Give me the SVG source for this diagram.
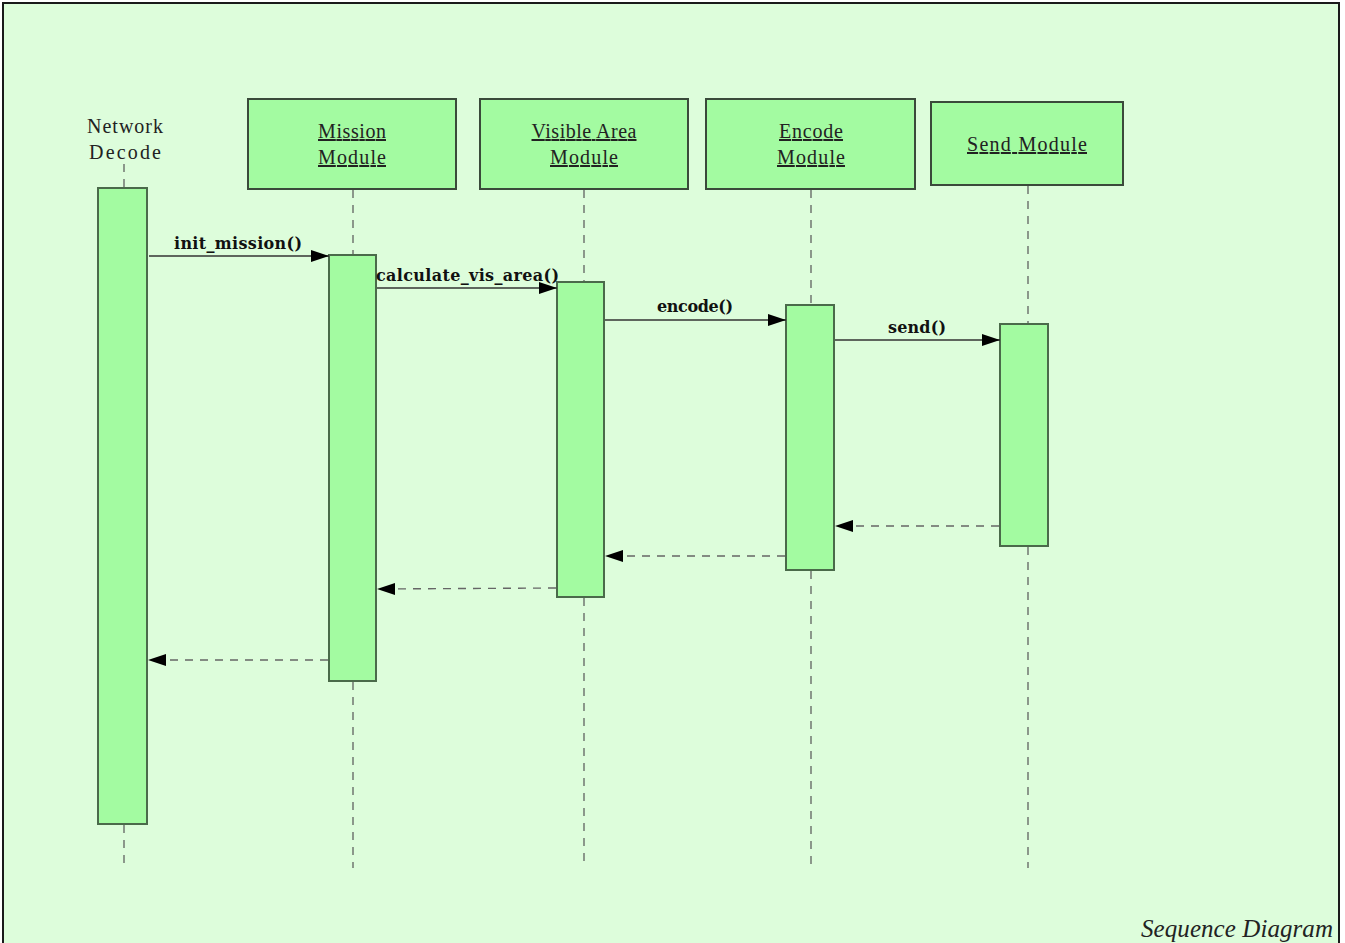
<svg xmlns="http://www.w3.org/2000/svg" width="1345" height="943" viewBox="0 0 1345 943">
  <style>
    .frame { fill: #ddfddb; stroke: #1a1a1a; stroke-width: 2; }
    .head { fill: #a3fba1; stroke: #3a4a3a; stroke-width: 2; }
    .act { fill: #a3fba1; stroke: #4a6a4a; stroke-width: 2; }
    .life { stroke: #555; stroke-width: 1.2; stroke-dasharray: 8 7; fill: none; }
    .call { stroke: #333; stroke-width: 1.4; fill: none; marker-end: url(#arrow); }
    .ret { stroke: #666; stroke-width: 1.4; stroke-dasharray: 8 7; fill: none; marker-end: url(#arrow); }
    .name { font-family: "Liberation Serif", serif; font-size: 20px; fill: #222; text-anchor: middle; }
    .uname { font-family: "Liberation Serif", serif; font-size: 20px; fill: #222; text-anchor: middle; text-decoration: underline; }
    .msg { font-family: "DejaVu Serif", "Liberation Serif", serif; font-size: 16px; font-weight: bold; fill: #111; }
    .title { font-family: "Liberation Serif", serif; font-size: 25px; font-style: italic; fill: #222; }
  </style>
  <defs>
    <marker id="arrow" markerUnits="userSpaceOnUse" markerWidth="20" markerHeight="14" refX="18" refY="6" orient="auto">
      <path d="M0,0 L18,6 L0,12 z" fill="#000"/>
    </marker>
  </defs>

  <!-- diagram frame -->
  <rect class="frame" x="3" y="3" width="1336" height="960"/>

  <!-- lifelines -->
  <g id="lifelines">
    <line class="life" x1="124" y1="164" x2="124" y2="188"/>
    <line class="life" x1="124" y1="825" x2="124" y2="866"/>
    <line class="life" x1="353" y1="190" x2="353" y2="255"/>
    <line class="life" x1="353" y1="682" x2="353" y2="868"/>
    <line class="life" x1="584" y1="190" x2="584" y2="282"/>
    <line class="life" x1="584" y1="598" x2="584" y2="868"/>
    <line class="life" x1="811" y1="190" x2="811" y2="305"/>
    <line class="life" x1="811" y1="571" x2="811" y2="868"/>
    <line class="life" x1="1028" y1="186" x2="1028" y2="324"/>
    <line class="life" x1="1028" y1="547" x2="1028" y2="868"/>
  </g>

  <!-- participants -->
  <g id="network-decode">
    <text class="name" x="125" y="133" textLength="76">Network</text>
    <text class="name" x="125" y="159" textLength="72">Decode</text>
    <rect class="act" x="98" y="188" width="49" height="636"/>
  </g>
  <g id="mission-module">
    <rect class="head" x="248" y="99" width="208" height="90"/>
    <text class="uname" x="352" y="138" textLength="68">Mission</text>
    <text class="uname" x="352" y="164" textLength="68">Module</text>
    <rect class="act" x="329" y="255" width="47" height="426"/>
  </g>
  <g id="visible-area-module">
    <rect class="head" x="480" y="99" width="208" height="90"/>
    <text class="uname" x="584" y="138" textLength="105">Visible Area</text>
    <text class="uname" x="584" y="164" textLength="68">Module</text>
    <rect class="act" x="557" y="282" width="47" height="315"/>
  </g>
  <g id="encode-module">
    <rect class="head" x="706" y="99" width="209" height="90"/>
    <text class="uname" x="811" y="138" textLength="64">Encode</text>
    <text class="uname" x="811" y="164" textLength="68">Module</text>
    <rect class="act" x="786" y="305" width="48" height="265"/>
  </g>
  <g id="send-module">
    <rect class="head" x="931" y="102" width="192" height="83"/>
    <text class="uname" x="1027" y="151" textLength="120">Send Module</text>
    <rect class="act" x="1000" y="324" width="48" height="222"/>
  </g>

  <!-- messages -->
  <g id="connectors">
    <line class="call" x1="149" y1="256" x2="329" y2="256"/>
    <text class="msg" x="174" y="249" textLength="128">init_mission()</text>
    <line class="call" x1="377" y1="288" x2="557" y2="288"/>
    <text class="msg" x="376" y="281" textLength="183">calculate_vis_area()</text>
    <line class="call" x1="605" y1="320" x2="786" y2="320"/>
    <text class="msg" x="657" y="312" textLength="76">encode()</text>
    <line class="call" x1="835" y1="340" x2="1000" y2="340"/>
    <text class="msg" x="888" y="333" textLength="58">send()</text>

    <line class="ret" x1="999" y1="526" x2="835" y2="526"/>
    <line class="ret" x1="785" y1="556" x2="605" y2="556"/>
    <line class="ret" x1="556" y1="588" x2="377" y2="589"/>
    <line class="ret" x1="328" y1="660" x2="148" y2="660"/>
  </g>

  <text class="title" x="1141" y="937" textLength="192">Sequence Diagram</text>
</svg>
